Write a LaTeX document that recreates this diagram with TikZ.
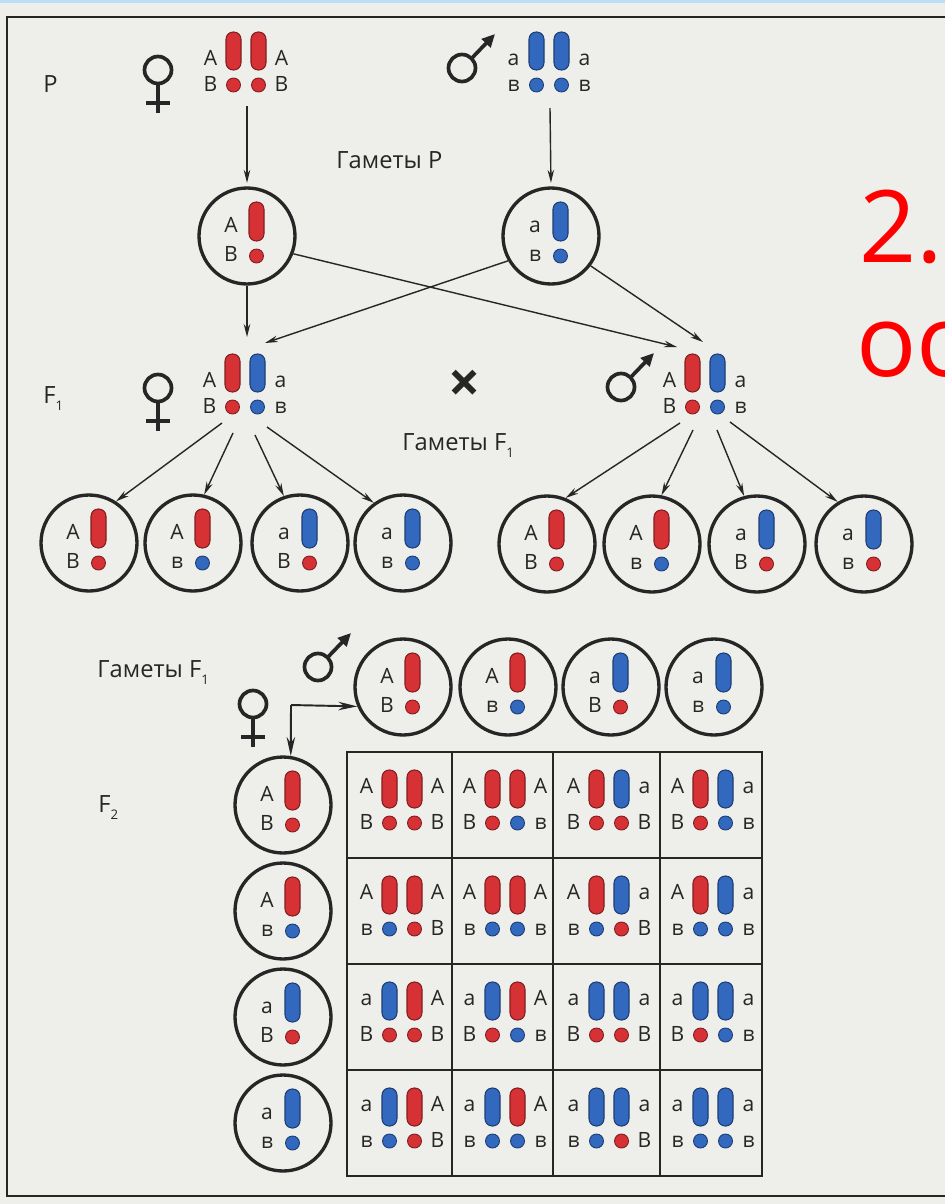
\documentclass[tikz,border=0pt]{standalone}
\usepackage{fontspec}
\setmainfont{Open Sans}
\usetikzlibrary{arrows.meta}

\definecolor{paper}{RGB}{238,238,235}
\definecolor{ink}{RGB}{38,38,38}
\definecolor{chr}{RGB}{214,50,54}
\definecolor{chb}{RGB}{50,104,190}
\definecolor{note}{RGB}{255,0,0}
\definecolor{scanedge}{RGB}{185,222,245}

% low subscript for generation labels
\newcommand\gsub[1]{\raisebox{-0.6ex}{\fontsize{7.5}{8}\selectfont #1}}
% baseline of the upper gene letters beside a chromosome pair
\def\pairtop{-2}

\tikzset{
  lab/.style={font=\fontsize{12}{14}\selectfont, text=ink, inner sep=0pt, anchor=base},
  ttl/.style={font=\fontsize{13.5}{15}\selectfont, text=ink, inner sep=0pt, anchor=base west},
  gam/.style={circle, draw=ink, line width=1.9pt, minimum size=1.92cm, inner sep=0pt},
  chrod/.style={fill=#1, draw=#1!60!black, line width=0.6pt, rounded corners=0.145cm},
  chdot/.style={fill=#1, draw=#1!60!black, line width=0.5pt},
  arr/.style={draw=ink, line width=0.8pt, -{Stealth[length=0.26cm, width=0.13cm]}},
  arrbig/.style={draw=ink, line width=1.1pt, -{Stealth[length=0.38cm, width=0.17cm]}},
  sym/.style={draw=ink, line width=2.1pt},
  % pair of homologous chromosomes with their genes
  pics/pair/.style n args={8}{code={
      \filldraw[chrod=#5] (-20,-35) rectangle (-5,3);
      \filldraw[chrod=#6] (5,-35) rectangle (20,3);
      \filldraw[chdot=#7] (-12.5,18) circle[radius=0.14cm];
      \filldraw[chdot=#8] (12.5,18) circle[radius=0.14cm];
      \node[lab] (-lt) at (-35.5,\pairtop) {#1};
      \node[lab] (-rt) at (35.5,\pairtop) {#2};
      \node[lab] (-lb) at (-35.5,24) {#3};
      \node[lab] (-rb) at (35.5,24) {#4};
  }},
  % single set of chromosomes inside a gamete
  pics/single/.style n args={4}{code={
      \filldraw[chrod=#3] (2,-34) rectangle (17,5);
      \filldraw[chdot=#4] (9.5,20) circle[radius=0.14cm];
      \node[lab] (-t) at (-16,-4) {#1};
      \node[lab] (-b) at (-16,25) {#2};
  }},
  pics/female/.style={code={
      \draw[sym] (0,0) circle[radius=0.27cm];
      \draw[sym] (0,14) -- (0,43);
      \draw[sym] (-12,33) -- (12,33);
  }},
  pics/male/.style={code={
      \draw[sym] (0,0) circle[radius=0.27cm];
      \draw[sym, -{Triangle[length=0.26cm, width=0.24cm]}] (9.5,-9.5) -- (33,-34);
  }},
}

\begin{document}
\begin{tikzpicture}[x=0.02cm, y=-0.02cm]
\fill[paper] (0,0) rectangle (945,1204);
\useasboundingbox (0,0) rectangle (945,1204);
\fill[scanedge] (0,0) rectangle (945,2.5);

% frame
\draw[ink, line width=1.1pt] (945,17) -- (7,17) -- (7,1196) -- (945,1196);

% red note on the right
\node[anchor=base west, inner sep=0pt, text=note, font=\fontsize{57}{60}\selectfont] (n1) at (859,262) {2.};
\node[anchor=base west, inner sep=0pt, text=note, font=\fontsize{57}{60}\selectfont] (n2) at (856,376) {oo};

% generation labels
\node[ttl] (lp) at (43,92) {P};
\node[ttl] (lf1) at (43,403) {F\gsub{1}};
\node[ttl] (lf2) at (98,812) {F\gsub{2}};
\node[ttl] (lgp) at (336,168) {Гаметы Р};
\node[ttl] (lgf1) at (402,450) {Гаметы F\gsub{1}};
\node[ttl] (lgf2) at (97,677) {Гаметы F\gsub{1}};

% sex symbols
\pic (sf0) at (158,70) {female};
\pic (sm0) at (462,68) {male};
\pic (sf1) at (158,388) {female};
\pic (sm1) at (621,387) {male};
\pic (sf2) at (253,704) {female};
\pic (sm2) at (318,667) {male};
\node[inner sep=0pt, text=ink, font=\fontsize{32}{32}\selectfont\bfseries] (cross) at (465,386) {×};

% parents
\pic (pf) at (246,67) {pair={A}{A}{B}{B}{chr}{chr}{chr}{chr}};
\pic (pm) at (549,67) {pair={a}{a}{в}{в}{chb}{chb}{chb}{chb}};

% gametes of the parents
\node[gam] (gpf) at (247,236) {};
\pic (gpfc) at (247,236) {single={A}{B}{chr}{chr}};
\node[gam] (gpm) at (551,236) {};
\pic (gpmc) at (551,236) {single={a}{в}{chb}{chb}};

% F1 hybrids
\pic (f1f) at (245,389) {pair={A}{a}{B}{в}{chr}{chb}{chr}{chb}};
\pic (f1m) at (705,389) {pair={A}{a}{B}{в}{chr}{chb}{chr}{chb}};

% gametes of F1, female side
\node[gam] (fg1) at (89,543) {};
\pic (fg1c) at (89,543) {single={A}{B}{chr}{chr}};
\node[gam] (fg2) at (193,543) {};
\pic (fg2c) at (193,543) {single={A}{в}{chr}{chb}};
\node[gam] (fg3) at (300,543) {};
\pic (fg3c) at (300,543) {single={a}{B}{chb}{chr}};
\node[gam] (fg4) at (403,543) {};
\pic (fg4c) at (403,543) {single={a}{в}{chb}{chb}};

% gametes of F1, male side
\node[gam] (mg1) at (547,544) {};
\pic (mg1c) at (547,544) {single={A}{B}{chr}{chr}};
\node[gam] (mg2) at (652,544) {};
\pic (mg2c) at (652,544) {single={A}{в}{chr}{chb}};
\node[gam] (mg3) at (757,544) {};
\pic (mg3c) at (757,544) {single={a}{B}{chb}{chr}};
\node[gam] (mg4) at (864,544) {};
\pic (mg4c) at (864,544) {single={a}{в}{chb}{chr}};

% arrows: parents to gametes to F1
\coordinate (pfo) at (247,106);
\coordinate (pmo) at (550,108);
\draw[arr, shorten >=2pt] (pfo) -- (gpf.north);
\draw[arr, shorten >=2pt] (pmo) -- (gpm.north);
\coordinate (f1fi1) at (247,337);
\coordinate (f1fi2) at (265,343);
\coordinate (f1mi1) at (677,347);
\coordinate (f1mi2) at (703,342);
\draw[arr] (gpf.south) -- (f1fi1);
\draw[arr] (gpm.210) -- (f1fi2);
\draw[arr] (gpf.-21) -- (f1mi1);
\draw[arr] (gpm.-37) -- (f1mi2);

% arrows: F1 to its gametes
\coordinate (f1fo1) at (222,423);
\coordinate (f1fo2) at (233,433);
\coordinate (f1fo3) at (255,435);
\coordinate (f1fo4) at (267,427);
\draw[arr] (f1fo1) -- (fg1.57);
\draw[arr] (f1fo2) -- (fg2.77);
\draw[arr] (f1fo3) -- (fg3.109);
\draw[arr] (f1fo4) -- (fg4.126);
\coordinate (f1mo1) at (680,423);
\coordinate (f1mo2) at (693,430);
\coordinate (f1mo3) at (717,430);
\coordinate (f1mo4) at (730,422);
\draw[arr] (f1mo1) -- (mg1.68);
\draw[arr] (f1mo2) -- (mg2.79);
\draw[arr] (f1mo3) -- (mg3.105);
\draw[arr] (f1mo4) -- (mg4.122);

% Punnett square: male gametes across the top
\node[gam] (mc1) at (403,687) {};
\pic (mc1c) at (403,687) {single={A}{B}{chr}{chr}};
\node[gam] (mc2) at (508,687) {};
\pic (mc2c) at (508,687) {single={A}{в}{chr}{chb}};
\node[gam] (mc3) at (611,687) {};
\pic (mc3c) at (611,687) {single={a}{B}{chb}{chr}};
\node[gam] (mc4) at (714,687) {};
\pic (mc4c) at (714,687) {single={a}{в}{chb}{chb}};

% female gametes down the side
\node[gam] (fc1) at (283,805) {};
\pic (fc1c) at (283,805) {single={A}{B}{chr}{chr}};
\node[gam] (fc2) at (283,911) {};
\pic (fc2c) at (283,911) {single={A}{в}{chr}{chb}};
\node[gam] (fc3) at (283,1017) {};
\pic (fc3c) at (283,1017) {single={a}{B}{chb}{chr}};
\node[gam] (fc4) at (283,1123) {};
\pic (fc4c) at (283,1123) {single={a}{в}{chb}{chb}};

% elbow arrow from the sex symbols
\coordinate (elb) at (291,705);
\draw[arrbig] (elb) -- (fc1.81);
\draw[arrbig] (elb) -- (mc1.203);

% grid
\draw[ink, line width=0.9pt] (347,752) rectangle (762,1176);
\foreach \gx in {452,553,660} \draw[ink, line width=0.9pt] (\gx,752) -- (\gx,1176);
\foreach \gy in {858,964,1070} \draw[ink, line width=0.9pt] (347,\gy) -- (762,\gy);

% F2 genotypes
\def\pairtop{-12}
\foreach \r/\ra/\rb/\rc/\rd/\ry in {1/A/B/chr/chr/805, 2/A/в/chr/chb/911, 3/a/B/chb/chr/1017, 4/a/в/chb/chb/1123}{
  \foreach \c/\ca/\cb/\cc/\cd/\cx in {1/A/B/chr/chr/402, 2/A/в/chr/chb/505, 3/a/B/chb/chr/609, 4/a/в/chb/chb/713}{
    \pic (c\r\c) at (\cx,\ry) {pair={\ra}{\ca}{\rb}{\cb}{\rc}{\cc}{\rd}{\cd}};
  }
}
\end{tikzpicture}
\end{document}
